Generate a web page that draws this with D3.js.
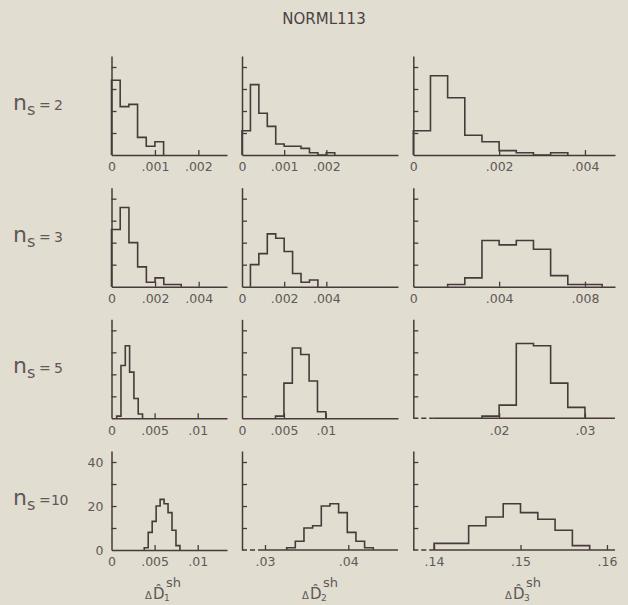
<!DOCTYPE html>
<html>
<head>
<meta charset="utf-8">
<script src="https://cdn.jsdelivr.net/npm/d3@7"></script>
<style>
  html, body { margin: 0; padding: 0; background: #e2ddd1; }
  svg { display: block; }
</style>
</head>
<body>
<svg id="chart" width="628" height="605"></svg>
<script>
// ---- data -------------------------------------------------------------
const chartTitle = "NORML113";
const sampleSizes = ["2", "3", "5", "10"];        // n_s, one per row
const estimatorIndex = ["1", "2", "3"];           // ΔD̂_k^sh, one per column

// histogram counts, one array per row; inner arrays are the three columns
const countsN2  = [[34, 22, 23, 8, 4, 6],
                   [11, 32, 19, 13, 5, 4, 4, 3, 1, 0, 1],
                   [11, 36, 26, 9, 6, 2, 1, 0, 1]];
const countsN3  = [[26, 36, 20, 9, 2, 4, 1, 1],
                   [10, 15, 24, 22, 16, 6, 2, 3],
                   [1, 4, 21, 19, 21, 17, 5, 1, 1]];
const countsN5  = [[1, 24, 33, 21, 9, 2],
                   [1, 16, 32, 29, 17, 3],
                   [1, 6, 34, 33, 16, 5]];
const countsN10 = [[1, 8, 13, 20, 23, 21, 17, 9, 2],
                   [1, 4, 10, 11, 20, 21, 17, 8, 4, 1],
                   [3, 3, 11, 15, 21, 17, 14, 9, 2]];
const counts = [countsN2, countsN3, countsN5, countsN10];

// left edge of the first bin and bin width, [row][column]
const binStart = [[0, 0, 0],
                  [0, 0.0004, 0.0016],
                  [0.0006, 0.004, 0.018],
                  [0.0038, 0.0326, 0.14]];
const binWidth = [[0.0002, 0.0002, 0.0004],
                  [0.0004, 0.0004, 0.0008],
                  [0.0005, 0.001, 0.002],
                  [0.00046, 0.00104, 0.002]];

// x-axis extent of each panel, [row][column]
const xDomains = [[[0, 0.00266], [0, 0.0037], [0, 0.0047]],
                  [[0, 0.0053], [0, 0.0074], [0, 0.0094]],
                  [[0, 0.0134], [0, 0.0186], [0.01, 0.0335]],
                  [[0, 0.0134], [0.02724, 0.04597], [0.1376, 0.16093]]];

// x tick values and their printed labels, [row][column]
const xTickValues = [[[0, 0.001, 0.002], [0, 0.001, 0.002], [0, 0.002, 0.004]],
                     [[0, 0.002, 0.004], [0, 0.002, 0.004], [0, 0.004, 0.008]],
                     [[0, 0.005, 0.01], [0, 0.005, 0.01], [0.02, 0.03]],
                     [[0, 0.005, 0.01], [0.03, 0.04], [0.14, 0.15, 0.16]]];
const xTickLabels = [[["0", ".001", ".002"], ["0", ".001", ".002"], ["0", ".002", ".004"]],
                     [["0", ".002", ".004"], ["0", ".002", ".004"], ["0", ".004", ".008"]],
                     [["0", ".005", ".01"], ["0", ".005", ".01"], [".02", ".03"]],
                     [["0", ".005", ".01"], [".03", ".04"], [".14", ".15", ".16"]]];

// y axis (frequency)
const yMax = 45;
const yTickValues = [10, 20, 30, 40];
const yLabelValues = [0, 20, 40];
const yLabelText = ["0", "20", "40"];

// ---- layout -----------------------------------------------------------
const colLeft  = [111.5, 242, 413.3];
const colRight = [227, 398, 615];
const firstBaseline = 155;
const rowStep = 131.67;
const axisHeight = 99;
const ink = "#463b3a";
const textInk = "#5e5857";
const labelFont = "'DejaVu Sans', sans-serif";

const svg = d3.select("#chart");

svg.append("text")
  .attr("x", 324).attr("y", 23.5)
  .attr("text-anchor", "middle")
  .attr("font-family", labelFont)
  .attr("font-size", 15)
  .attr("fill", "#4a4242")
  .text(chartTitle);

sampleSizes.forEach((ns, r) => {
  const base = firstBaseline + r * rowStep;
  const y = d3.scaleLinear().domain([0, yMax]).range([base, base - axisHeight]);

  // row label  n_s = k
  const lab = svg.append("g").attr("fill", textInk).attr("font-family", labelFont);
  lab.append("text").attr("x", 13).attr("y", base - 45)
    .attr("font-size", 22).text("n");
  lab.append("text").attr("x", 27).attr("y", base - 40)
    .attr("font-size", 16).text("s");
  lab.append("text").attr("x", 39).attr("y", base - 45)
    .attr("font-size", 14).text("=");
  lab.append("text").attr("x", ns.length > 1 ? 51 : 54).attr("y", base - 45)
    .attr("font-size", 14).attr("letter-spacing", ns.length > 1 ? -0.5 : 0).text(ns);

  estimatorIndex.forEach((k, c) => {
    const x = d3.scaleLinear().domain(xDomains[r][c]).range([colLeft[c], colRight[c]]);
    const g = svg.append("g");

    // y axis with inward ticks
    const yAxis = g.append("g")
      .attr("transform", `translate(${colLeft[c]},0)`)
      .call(d3.axisLeft(y).tickValues(yTickValues).tickSizeInner(-5)
        .tickSizeOuter(0).tickFormat(""));
    yAxis.select(".domain").attr("stroke", ink).attr("stroke-width", 1.5);
    yAxis.selectAll(".tick line").attr("stroke", ink).attr("stroke-width", 1.3);

    if (r === sampleSizes.length - 1 && c === 0) {
      const yLab = g.append("g")
        .attr("transform", `translate(${colLeft[c]},0)`)
        .call(d3.axisLeft(y).tickValues(yLabelValues).tickSize(0).tickPadding(8)
          .tickFormat((d, i) => yLabelText[i]));
      yLab.select(".domain").remove();
      yLab.selectAll("text").attr("font-family", labelFont).attr("font-size", 12.5)
        .attr("fill", textInk);
    }

    // x axis with upward ticks
    const labels = xTickLabels[r][c];
    const xAxis = g.append("g")
      .attr("transform", `translate(0,${base})`)
      .call(d3.axisBottom(x).tickValues(xTickValues[r][c]).tickSizeInner(-5)
        .tickSizeOuter(0).tickPadding(7.5).tickFormat((d, i) => labels[i]));
    xAxis.selectAll(".tick line").attr("stroke", ink).attr("stroke-width", 1.3)
      .filter(d => d === xDomains[r][c][0]).remove();
    xAxis.selectAll("text").attr("font-family", labelFont).attr("font-size", 12.5)
      .attr("fill", textInk);

    const brokenAxis = xDomains[r][c][0] !== 0;
    if (brokenAxis) {
      // axis that does not start at zero: short dashed lead-in, then solid
      xAxis.select(".domain").remove();
      const x0 = x.range()[0], x1 = x.range()[1];
      g.append("line").attr("x1", x0).attr("x2", x0 + 20).attr("y1", base).attr("y2", base)
        .attr("stroke", ink).attr("stroke-width", 1.5).attr("stroke-dasharray", "5,3");
      g.append("line").attr("x1", x0 + 20).attr("x2", x1).attr("y1", base).attr("y2", base)
        .attr("stroke", ink).attr("stroke-width", 1.5);
    } else {
      xAxis.select(".domain").attr("stroke", ink).attr("stroke-width", 1.5);
    }

    // step outline of the histogram
    const cs = counts[r][c];
    const start = binStart[r][c], w = binWidth[r][c];
    const pts = [[start, 0]];
    cs.forEach((v, i) => {
      pts.push([start + i * w, v]);
      pts.push([start + (i + 1) * w, v]);
    });
    pts.push([start + cs.length * w, 0]);
    g.append("path")
      .attr("d", d3.line().x(d => x(d[0])).y(d => y(d[1]))(pts))
      .attr("fill", "none")
      .attr("stroke", ink)
      .attr("stroke-width", 1.6)
      .attr("stroke-linejoin", "miter");
  });
});

// column titles  ΔD̂_k^sh
const titleX = [145, 302, 505];
estimatorIndex.forEach((k, c) => {
  const t = svg.append("g").attr("fill", textInk).attr("font-family", labelFont);
  const x0 = titleX[c];
  t.append("text").attr("x", x0).attr("y", 599).attr("font-size", 10).text("\u0394");
  t.append("text").attr("x", x0 + 8).attr("y", 599).attr("font-size", 15).text("D\u0302");
  t.append("text").attr("x", x0 + 19).attr("y", 601).attr("font-size", 9).text(k);
  t.append("text").attr("x", x0 + 21).attr("y", 587).attr("font-size", 13).text("sh");
});
</script>
</body>
</html>
